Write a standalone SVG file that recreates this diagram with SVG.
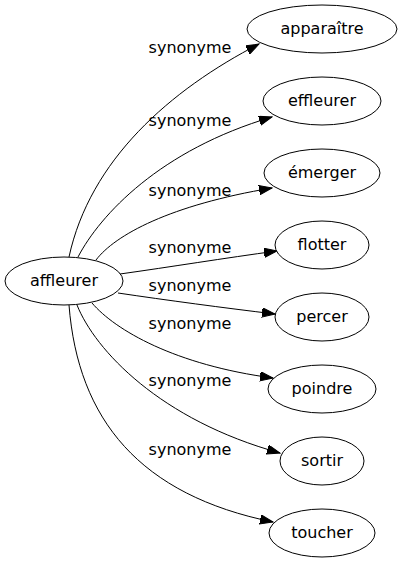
<svg xmlns="http://www.w3.org/2000/svg" width="402" height="563" viewBox="0 0 402 563">
<defs>
<marker id="arr" markerUnits="userSpaceOnUse" markerWidth="14" markerHeight="10" refX="13" refY="4.7" orient="auto">
<path d="M0,0 L13,4.7 L0,9.4 z" fill="#000" stroke="#000" stroke-width="1"/>
</marker>
<style>
.n ellipse{fill:#fff;stroke:#000;stroke-width:1}
text{font-family:"DejaVu Sans",sans-serif;font-size:16px;fill:#000;text-anchor:middle}
.e path{fill:none;stroke:#000;stroke-width:1;marker-end:url(#arr)}
</style>
</defs>
<rect width="402" height="563" fill="#fff"/>
<g id="edges" class="e">
<path d="M69,257 C90,160 170,90 259,44"/>
<path d="M78,257 C100,215 160,150 272,117"/>
<path d="M96,260 C115,235 170,205 272,188"/>
<path d="M120,274 C170,267 225,258 277,251"/>
<path d="M118,293 C165,300 225,308 275,314"/>
<path d="M92,303 C115,330 175,365 273,378"/>
<path d="M77,305 C95,350 160,420 280,453"/>
<path d="M69,305 C78,420 140,495 273,522"/>
</g>
<g id="labels">
<text x="190" y="53">synonyme</text>
<text x="190" y="126">synonyme</text>
<text x="190" y="196">synonyme</text>
<text x="190" y="253">synonyme</text>
<text x="190" y="291">synonyme</text>
<text x="190" y="329">synonyme</text>
<text x="190" y="386">synonyme</text>
<text x="190" y="455">synonyme</text>
</g>
<g id="affleurer" class="n"><ellipse cx="64" cy="281" rx="59" ry="24"/><text x="64" y="286">affleurer</text></g>
<g id="apparaitre" class="n"><ellipse cx="322" cy="29" rx="75" ry="24"/><text x="322" y="34">apparaître</text></g>
<g id="effleurer" class="n"><ellipse cx="322" cy="101" rx="59" ry="24"/><text x="322" y="106">effleurer</text></g>
<g id="emerger" class="n"><ellipse cx="322" cy="173" rx="58" ry="24"/><text x="322" y="178">émerger</text></g>
<g id="flotter" class="n"><ellipse cx="322" cy="245" rx="47" ry="24"/><text x="322" y="250">flotter</text></g>
<g id="percer" class="n"><ellipse cx="322" cy="317" rx="47" ry="24"/><text x="322" y="322">percer</text></g>
<g id="poindre" class="n"><ellipse cx="322" cy="389" rx="54" ry="24"/><text x="322" y="394">poindre</text></g>
<g id="sortir" class="n"><ellipse cx="322" cy="461" rx="42" ry="24"/><text x="322" y="466">sortir</text></g>
<g id="toucher" class="n"><ellipse cx="322" cy="533" rx="53" ry="24"/><text x="322" y="538">toucher</text></g>
</svg>
